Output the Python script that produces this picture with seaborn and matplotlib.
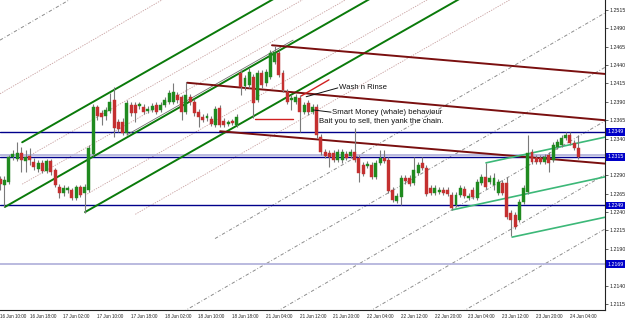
import numpy as np
import matplotlib
matplotlib.use("Agg")
import matplotlib.pyplot as plt
import matplotlib.transforms as mtransforms
import seaborn as sns

sns.set_theme(style="white")
plt.rcParams['font.family'] = ['Liberation Sans', 'DejaVu Sans']

# ---------------- data (EURUSD H1) ----------------
opens = [1.2285,1.2277,1.2281,1.2315,1.2312,1.2320,1.2310,1.2316,1.2308,1.2299,
         1.2307,1.2296,1.2310,1.2297,1.2274,1.2266,1.2270,1.2270,1.2259,1.2274,
         1.2266,1.2270,1.2319,1.2383,1.2375,1.2371,1.2378,1.2393,1.2363,1.2363,
         1.2348,1.2386,1.2386,1.2384,1.2383,1.2378,1.2379,1.2386,1.2379,1.2386,
         1.2390,1.2390,1.2399,1.2397,1.2376,1.2397,1.2390,1.2376,1.2369,1.2368,
         1.2367,1.2359,1.2382,1.2364,1.2360,1.2364,1.2359,1.2429,1.2412,1.2413,
         1.2424,1.2393,1.2429,1.2416,1.2424,1.2444,1.2457,1.2429,1.2403,1.2393,
         1.2390,1.2395,1.2376,1.2389,1.2376,1.2383,1.2342,1.2322,1.2320,1.2320,
         1.2311,1.2311,1.2319,1.2316,1.2322,1.2314,1.2304,1.2303,1.2304,1.2288,
         1.2307,1.2314,1.2311,1.2270,1.2255,1.2261,1.2286,1.2286,1.2280,1.2293,
         1.2307,1.2300,1.2273,1.2266,1.2267,1.2270,1.2270,1.2263,1.2250,1.2263,
         1.2272,1.2259,1.2270,1.2259,1.2280,1.2288,1.2281,1.2277,1.2266,1.2280,
         1.2280,1.2239,1.2236,1.2229,1.2254,1.2267,1.2322,1.2314,1.2314,1.2308,
         1.2318,1.2311,1.2329,1.2331,1.2341,1.2345,1.2334,1.2327]
highs = [1.2289,1.2289,1.2318,1.2325,1.2335,1.2329,1.2325,1.2327,1.2314,1.2311,
         1.2311,1.2312,1.2312,1.2300,1.2278,1.2277,1.2276,1.2273,1.2277,1.2277,
         1.2278,1.2331,1.2387,1.2386,1.2379,1.2383,1.2402,1.2410,1.2367,1.2368,
         1.2393,1.2390,1.2390,1.2390,1.2387,1.2384,1.2389,1.2390,1.2390,1.2397,
         1.2406,1.2416,1.2403,1.2399,1.2417,1.2401,1.2394,1.2380,1.2374,1.2375,
         1.2371,1.2384,1.2386,1.2368,1.2365,1.2367,1.2374,1.2433,1.2427,1.2436,
         1.2428,1.2433,1.2433,1.2435,1.2461,1.2466,1.2461,1.2433,1.2408,1.2399,
         1.2401,1.2399,1.2390,1.2393,1.2387,1.2387,1.2346,1.2326,1.2325,1.2325,
         1.2326,1.2326,1.2323,1.2326,1.2355,1.2318,1.2308,1.2310,1.2308,1.2311,
         1.2325,1.2325,1.2315,1.2274,1.2266,1.2291,1.2291,1.2291,1.2315,1.2308,
         1.2315,1.2304,1.2277,1.2277,1.2274,1.2274,1.2274,1.2267,1.2267,1.2277,
         1.2276,1.2266,1.2274,1.2285,1.2292,1.2307,1.2291,1.2293,1.2285,1.2284,
         1.2288,1.2243,1.2240,1.2258,1.2277,1.2345,1.2326,1.2318,1.2318,1.2319,
         1.2322,1.2335,1.2340,1.2345,1.2349,1.2349,1.2338,1.2345]
lows = [1.2270,1.2247,1.2278,1.2311,1.2310,1.2295,1.2295,1.2304,1.2297,1.2295,
        1.2293,1.2293,1.2291,1.2274,1.2259,1.2262,1.2266,1.2257,1.2257,1.2261,
        1.2239,1.2267,1.2316,1.2365,1.2359,1.2365,1.2375,1.2342,1.2349,1.2345,
        1.2345,1.2371,1.2363,1.2380,1.2374,1.2375,1.2376,1.2374,1.2376,1.2383,
        1.2387,1.2387,1.2389,1.2365,1.2374,1.2386,1.2371,1.2356,1.2363,1.2364,
        1.2357,1.2356,1.2356,1.2356,1.2357,1.2359,1.2356,1.2399,1.2406,1.2409,
        1.2368,1.2390,1.2409,1.2412,1.2421,1.2442,1.2424,1.2403,1.2387,1.2379,
        1.2387,1.2349,1.2374,1.2372,1.2374,1.2341,1.2318,1.2314,1.2301,1.2308,
        1.2308,1.2307,1.2311,1.2314,1.2308,1.2281,1.2289,1.2300,1.2285,1.2285,
        1.2304,1.2307,1.2266,1.2254,1.2252,1.2250,1.2278,1.2276,1.2277,1.2291,
        1.2297,1.2262,1.2263,1.2263,1.2265,1.2263,1.2262,1.2243,1.2247,1.2261,
        1.2259,1.2257,1.2258,1.2257,1.2277,1.2272,1.2278,1.2270,1.2263,1.2263,
        1.2231,1.2208,1.2217,1.2227,1.2251,1.2265,1.2306,1.2306,1.2306,1.2306,
        1.2295,1.2308,1.2326,1.2329,1.2338,1.2331,1.2325,1.2312]
closes = [1.2278,1.2284,1.2315,1.2319,1.2320,1.2311,1.2315,1.2311,1.2301,1.2307,
          1.2296,1.2310,1.2295,1.2277,1.2266,1.2273,1.2273,1.2259,1.2274,1.2263,
          1.2274,1.2327,1.2383,1.2371,1.2369,1.2379,1.2390,1.2355,1.2353,1.2348,
          1.2389,1.2375,1.2375,1.2387,1.2376,1.2380,1.2384,1.2376,1.2386,1.2393,
          1.2402,1.2403,1.2393,1.2376,1.2399,1.2390,1.2375,1.2369,1.2365,1.2371,
          1.2360,1.2380,1.2359,1.2359,1.2363,1.2361,1.2369,1.2410,1.2423,1.2431,
          1.2389,1.2429,1.2413,1.2431,1.2457,1.2458,1.2427,1.2406,1.2390,1.2395,
          1.2397,1.2376,1.2386,1.2376,1.2383,1.2345,1.2322,1.2316,1.2315,1.2311,
          1.2322,1.2322,1.2314,1.2322,1.2311,1.2293,1.2292,1.2306,1.2288,1.2307,
          1.2314,1.2310,1.2269,1.2257,1.2262,1.2286,1.2282,1.2278,1.2297,1.2304,
          1.2300,1.2265,1.2266,1.2273,1.2270,1.2266,1.2265,1.2246,1.2263,1.2273,
          1.2262,1.2262,1.2261,1.2281,1.2288,1.2274,1.2286,1.2286,1.2281,1.2266,
          1.2233,1.2229,1.2220,1.2254,1.2273,1.2320,1.2308,1.2308,1.2308,1.2315,
          1.2307,1.2331,1.2335,1.2341,1.2345,1.2334,1.2327,1.2315]

time_labels = ["16 Jun 10:00", "16 Jun 18:00", "17 Jun 02:00", "17 Jun 10:00",
               "17 Jun 18:00", "18 Jun 02:00", "18 Jun 10:00", "18 Jun 18:00",
               "21 Jun 04:00", "21 Jun 12:00", "21 Jun 20:00", "22 Jun 04:00",
               "22 Jun 12:00", "22 Jun 20:00", "23 Jun 04:00", "23 Jun 12:00",
               "23 Jun 20:00", "24 Jun 04:00"]
time_label_bar = [1, 8, 16, 24, 32, 40, 48, 56, 64, 72, 80, 88, 96, 104, 112, 120, 128, 136]

price_ticks = [1.2515, 1.2490, 1.2465, 1.2440, 1.2415, 1.2390, 1.2365, 1.2340,
               1.2290, 1.2265, 1.2240, 1.2215, 1.2190, 1.2140, 1.2115]

hline_levels = [1.2349, 1.2315, 1.2249]       # navy lines with boxed labels
light_levels = [1.2318, 1.2169]               # lavender lines
boxed_levels = [1.2349, 1.2315, 1.2249, 1.2169]

# trend lines: (bar1, price1, bar2, price2)
green_lines = [(6.2, 1.2335, 67.3, 1.2535), (2.1, 1.2247, 91.0, 1.2538),
               (21.1, 1.2240, 114.7, 1.2546)]
double_line = [(31.0, 1.2345, 70.4, 1.2474)]
maroon_lines = [(65.4, 1.2467, 144.3, 1.2428), (45.3, 1.2416, 144.3, 1.2365),
                (53.1, 1.2350, 144.3, 1.2306)]
seagreen_lines = [(116.1, 1.2307, 144.3, 1.2342), (108.1, 1.2243, 144.3, 1.2288),
                  (122.3, 1.2206, 144.3, 1.2233)]
red_lines = [(61.4, 1.2367, 70.4, 1.2367), (72.3, 1.2398, 78.9, 1.2420)]
pointer_lines = [(73.5, 1.2397, 81.0, 1.2409), (75.1, 1.2379, 79.4, 1.2376)]
grey_dash_lines = [(0.95, 1.2474, 144.3, 1.2952),
                   (51.9, 1.2204, 144.3, 1.2511), (0.95, 1.1960, 144.3, 1.2437),
                   (0.95, 1.1886, 144.3, 1.2364), (0.95, 1.1813, 144.3, 1.2291),
                   (0.95, 1.1740, 144.3, 1.2217)]
pink_dot_lines = [(0.95, 1.2401, 144.3, 1.2878), (6.2, 1.2311, 144.3, 1.2764),
                  (6.2, 1.2278, 144.3, 1.2730), (21.1, 1.2263, 144.3, 1.2667),
                  (33.0, 1.2237, 144.3, 1.2603)]
notes = [("Wash n Rinse", 81.3, 1.2409), ("Smart Money (whale) behaviour", 79.6, 1.2376),
         ("Bait you to sell, then yank the chain.", 76.5, 1.2363)]

# ---------------- figure ----------------
fig = plt.figure(figsize=(6.25, 3.19), dpi=100)
ax = fig.add_axes([0, 9/319, 605/625, 310/319])
ax.set_xlim(0.95, 144.3)
ax.set_ylim(1.21068, 1.25286)

for (x1, y1, x2, y2) in grey_dash_lines:
    ax.plot([x1, x2], [y1, y2], color="#8c8c8c", lw=0.7, dashes=(3.5, 2, 0.8, 2), zorder=1)
for (x1, y1, x2, y2) in pink_dot_lines:
    ax.plot([x1, x2], [y1, y2], color="#c8a0a0", lw=0.6, dashes=(1.6, 1.4), zorder=1)

for lv in light_levels:
    ax.axhline(lv, color="#b4b4dc", lw=1.3, zorder=2)
for lv in hline_levels:
    ax.axhline(lv, color="#00008b", lw=1.0, zorder=2)

for (x1, y1, x2, y2) in green_lines:
    ax.plot([x1, x2], [y1, y2], color="#0a7a0a", lw=1.4, zorder=3)
for (x1, y1, x2, y2) in double_line:
    ax.plot([x1, x2], [y1, y2], color="#6e6e6e", lw=0.6, zorder=3)
for (x1, y1, x2, y2) in maroon_lines:
    ax.plot([x1, x2], [y1, y2], color="#7a0f0f", lw=1.4, zorder=3)
for (x1, y1, x2, y2) in seagreen_lines:
    ax.plot([x1, x2], [y1, y2], color="#3cb878", lw=1.2, zorder=3)
for (x1, y1, x2, y2) in red_lines:
    ax.plot([x1, x2], [y1, y2], color="#d02020", lw=1.0, zorder=3)
for (x1, y1, x2, y2) in pointer_lines:
    ax.plot([x1, x2], [y1, y2], color="#111111", lw=0.7, zorder=6)

# candles
o = np.array(opens); h = np.array(highs); l = np.array(lows); c = np.array(closes)
idx = np.arange(1, len(o) + 1)
up = c >= o
ax.vlines(idx, l, h, color="#7a7a7a", lw=0.8, zorder=4)
body_b = np.minimum(o, c)
body_h = np.maximum(np.abs(c - o), 0.00006)
ax.bar(idx[up], body_h[up], bottom=body_b[up], width=0.7, color="#1f8a1f",
       edgecolor="#1f8a1f", lw=0.3, zorder=5)
ax.bar(idx[~up], body_h[~up], bottom=body_b[~up], width=0.7, color="#c43030",
       edgecolor="#c43030", lw=0.3, zorder=5)

for (txt, x, y) in notes:
    ax.text(x, y, txt, fontsize=5.6, color="#111111", ha="left", va="center", zorder=7)

# axes styling
for s in ["left", "top"]:
    ax.spines[s].set_visible(False)
for s in ["right", "bottom"]:
    ax.spines[s].set_color("#222222")
    ax.spines[s].set_linewidth(0.8)
ax.yaxis.tick_right()
ax.set_yticks(price_ticks)
ax.set_yticklabels([f"{p:.4f}" for p in price_ticks])
ax.tick_params(axis="y", labelsize=3.8, length=2, width=0.5, pad=1.5, colors="#222222")
ax.set_xticks(time_label_bar)
ax.set_xticklabels([])
ax.tick_params(axis="x", length=2, width=0.5, colors="#222222")

trans_x = mtransforms.blended_transform_factory(ax.transData, ax.transAxes)
for b, lab in zip(time_label_bar, time_labels):
    ax.text(b - 0.05, -0.012, lab, transform=trans_x, fontsize=3.3, ha="left",
            va="top", color="#222222", clip_on=False)

trans_y = mtransforms.blended_transform_factory(ax.transAxes, ax.transData)
for lv in boxed_levels:
    ax.text(1.004, lv, f"{lv:.4f}", transform=trans_y, fontsize=3.8, color="white",
            ha="left", va="center", zorder=8, clip_on=False,
            bbox=dict(boxstyle="square,pad=0.25", fc="#0000c8", ec="none"))

fig.savefig("out.png", dpi=100)
